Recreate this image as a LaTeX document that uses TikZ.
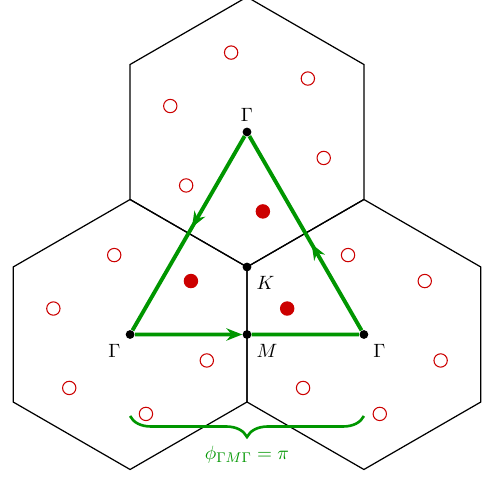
\documentclass[tikz,border=0pt]{standalone}
\usepackage{amsmath}
\usetikzlibrary{arrows.meta,calc,decorations.markings,decorations.pathreplacing}
\definecolor{mDarkGreen}{RGB}{0,150,0}
\definecolor{mDarkRed}{RGB}{204,0,0}

\begin{document}
\begin{tikzpicture}[font=\fontsize{11}{13}\selectfont,
  hexedge/.style={black, line width=0.7pt},
  pt/.style={circle, fill=black, inner sep=0pt, minimum size=5pt},
  site/.style={circle, draw=mDarkRed, line width=0.6pt, inner sep=0pt, minimum size=7.6pt},
  loopline/.style={mDarkGreen, line width=2.2pt},
  flowarrow/.style={loopline, postaction={decorate},
    decoration={markings, mark=at position #1 with {\arrow{Stealth[length=9pt,width=7pt]}}}},
  bracket/.style={mDarkGreen, line width=1.5pt, decorate,
    decoration={brace, mirror, amplitude=0.42cm}}
]
\useasboundingbox (-4.94,-4.22) rectangle (4.7,5.34);
% high-symmetry points
\node[pt, label=above:$\Gamma$] (g1) at (90:2.7) {};
\node[pt, label=below left:$\Gamma$] (g2) at (210:2.7) {};
\node[pt, label=below right:$\Gamma$] (g3) at (330:2.7) {};
\node[pt, label=below right:$K$] (k) at (0,0) {};
\node[pt, label=below right:$M$] (m) at ($(g2)!0.5!(g3)$) {};
% Brillouin zones
\foreach \hex in {g1,g2,g3}
  \draw[hexedge] (\hex.center) ++(-30:2.7) -- ++(90:2.7) -- ++(150:2.7) -- ++(210:2.7) -- ++(270:2.7) -- ++(330:2.7) -- cycle;
% sites, the one inside the loop filled
\foreach \hex/\full in {g1/4,g2/0,g3/2}
  \foreach \k in {0,...,5}{
    \ifnum\k=\full \def\sitefill{mDarkRed}\else \def\sitefill{white}\fi
    \node[site, fill=\sitefill] (\hex-s\k) at ([shift={(41.3+60*\k:1.62)}]\hex.center) {};
  }
% closed loop
\draw[flowarrow=0.47] (g1) -- (g2);
\draw[loopline, -{Stealth[length=9pt,width=7pt]}] (g2) -- (m);
\draw[loopline] (m) -- (g3);
\draw[flowarrow=0.445] (g3) -- (g1);
% phase
\draw[bracket] ([yshift=-1.63cm]g2.center) -- ([yshift=-1.63cm]g3.center);
\node[mDarkGreen] (phase) at ([yshift=-2.41cm]m.center) {$\phi_{\Gamma M\Gamma} = \pi$};
\end{tikzpicture}
\end{document}
